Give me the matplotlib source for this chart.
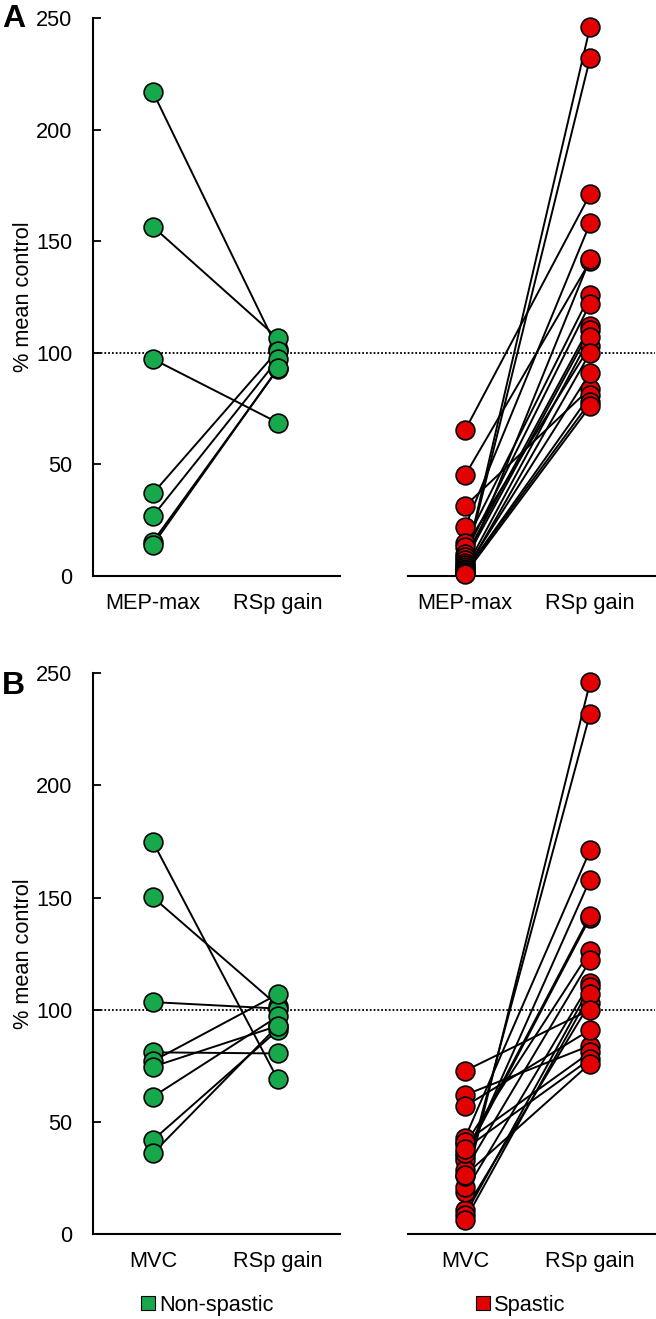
import matplotlib
matplotlib.use("Agg")
import matplotlib.pyplot as plt
from matplotlib.patches import Patch

plt.rcParams['font.family'] = ['Liberation Sans', 'DejaVu Sans']

# ---------------- data ----------------
# Panel A
a_categories = ["MEP-max", "RSp gain", "MEP-max", "RSp gain"]
a_ns_mep = [216.8, 156.5, 97.2, 37.0, 26.9, 15.4, 14.0]
a_ns_rsp = [101.5, 106.5, 68.7, 101.0, 97.0, 92.7, 93.0]
a_sp_mep = [65.4, 45.2, 31.4, 22.1, 14.6, 13.0, 10.0, 8.7, 7.0, 5.7, 5.0, 4.0, 3.0, 2.5, 2.0, 1.9, 1.5, 1.0]
a_sp_rsp = [171.0, 141.0, 84.0, 158.0, 126.0, 103.0, 122.0, 112.0, 110.0, 246.0, 232.0, 142.0, 107.0, 91.0, 81.0, 78.0, 100.0, 76.0]

# Panel B
b_categories = ["MVC", "RSp gain", "MVC", "RSp gain"]
b_ns_mvc = [174.8, 150.1, 103.4, 81.0, 77.1, 74.6, 61.2, 41.9, 36.0]
b_ns_rsp = [68.9, 101.8, 100.5, 80.5, 106.9, 92.8, 97.0, 90.9, 92.8]
b_sp_mvc = [43.0, 35.0, 62.0, 33.0, 40.0, 10.7, 28.5, 18.9, 8.5, 21.0, 26.0, 36.0, 6.2, 57.0, 41.0, 38.0, 72.8, 26.3]
b_sp_rsp = [171.0, 141.0, 84.0, 158.0, 126.0, 103.0, 122.0, 112.0, 110.0, 246.0, 232.0, 142.0, 107.0, 91.0, 81.0, 78.0, 100.0, 76.0]

y_ticks = [0, 50, 100, 150, 200, 250]
legend_labels = ["Non-spastic", "Spastic"]
reference_level = 100

GREEN = '#16A84A'
RED = '#E30000'
xpos = [0, 1, 2.5, 3.5]
FS = 15.7

W, H = 656, 1319
fig = plt.figure(figsize=(W / 100, H / 100), dpi=100)

def make_panel(rect, cats, ns_a, ns_b, sp_a, sp_b, letter, letter_y):
    ax = fig.add_axes(rect)
    ax.set_xlim(-0.48, 4.02)
    ax.set_ylim(0, 250)
    for s in ['top', 'right', 'bottom']:
        ax.spines[s].set_visible(False)
    ax.spines['left'].set_linewidth(1.5)
    ax.set_yticks(y_ticks)
    ax.tick_params(axis='y', direction='in', length=6, width=1.3, pad=15, labelsize=FS)
    ax.set_xticks(xpos)
    ax.set_xticklabels(cats)
    ax.tick_params(axis='x', length=0, pad=12, labelsize=FS)
    # broken baseline
    ax.plot([-0.48, 1.5], [0, 0], color='black', lw=1.5, clip_on=False, zorder=2)
    ax.plot([2.04, 4.02], [0, 0], color='black', lw=1.5, clip_on=False, zorder=2)
    ax.axhline(reference_level, color='black', lw=1.3, ls=(0, (1, 1.1)), zorder=1)
    ax.set_ylabel('% mean control', fontsize=FS, labelpad=1)

    for (xa, xb, va, vb, col) in [(xpos[0], xpos[1], ns_a, ns_b, GREEN),
                                   (xpos[2], xpos[3], sp_a, sp_b, RED)]:
        for a, b in zip(va, vb):
            ax.plot([xa, xb], [a, b], color='black', lw=1.4, zorder=3, solid_capstyle='butt')
        ax.plot([xa] * len(va), va, 'o', ms=13.5, mfc=col, mec='black', mew=1.2, zorder=4, clip_on=False, ls='none')
        ax.plot([xb] * len(vb), vb, 'o', ms=13.5, mfc=col, mec='black', mew=1.2, zorder=4, clip_on=False, ls='none')
    fig.text(2 / W, 1 - letter_y / H, letter, fontsize=23, fontweight='bold', va='center', ha='left')
    return ax

left = 93 / W
width = (655 - 93) / W
axA = make_panel([left, 1 - 576 / H, width, (576 - 18) / H], a_categories,
                 a_ns_mep, a_ns_rsp, a_sp_mep, a_sp_rsp, 'A', 19)
axB = make_panel([left, 1 - 1234 / H, width, (1234 - 673.3) / H], b_categories,
                 b_ns_mvc, b_ns_rsp, b_sp_mvc, b_sp_rsp, 'B', 686)

for lab, col, xc in [(legend_labels[0], GREEN, 141 / W), (legend_labels[1], RED, 476 / W)]:
    fig.legend(handles=[Patch(facecolor=col, edgecolor='black', linewidth=0.8, label=lab)],
               loc='center left', bbox_to_anchor=(xc, 1 - 1305 / H), frameon=False,
               fontsize=FS, handlelength=0.62, handleheight=0.62, handletextpad=0.2,
               borderpad=0, borderaxespad=0)

fig.savefig('out.png', dpi=100)
